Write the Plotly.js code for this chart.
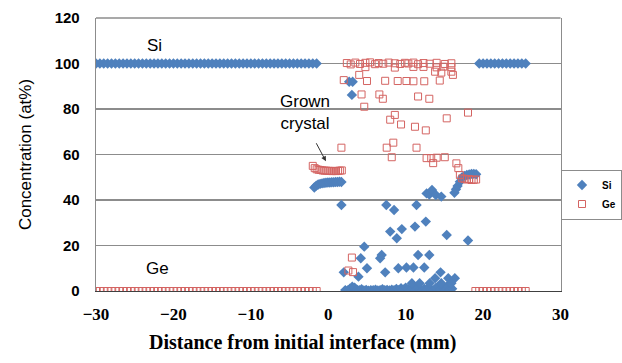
<!DOCTYPE html>
<html>
<head>
<meta charset="utf-8">
<script src="https://cdn.plot.ly/plotly-3.0.1.min.js"></script>
<style>html,body{margin:0;padding:0;background:#fff;}#chart{width:622px;height:363px;}</style>
</head>
<body>
<div id="chart"></div>
<script>
// ---- Si (at%) : distance (mm) ----
const siX = [
  -30,-29.5,-29,-28.5,-28,-27.5,-27,-26.5,-26,-25.5,-25,-24.5,-24,-23.5,-23,-22.5,-22,-21.5,-21,-20.5,
  -20,-19.5,-19,-18.5,-18,-17.5,-17,-16.5,-16,-15.5,-15,-14.5,-14,-13.5,-13,-12.5,-12,-11.5,-11,-10.5,
  -10,-9.5,-9,-8.5,-8,-7.5,-7,-6.5,-6,-5.5,-5,-4.5,-4,-3.5,-3,-2.5,-2,-1.5,
  -1.8,-1.55,-1.3,-1.05,-0.8,-0.55,-0.3,-0.05,0.2,0.45,0.7,0.95,1.2,1.45,1.7,
  1.7,2.0,2.7,3.15,3.05,
  2.2,2.5,2.8,3.1,3.4,3.7,4.0,4.3,4.6,4.9,5.2,5.5,5.8,6.1,6.4,6.7,7.0,7.3,7.6,7.9,8.2,8.5,8.8,9.1,9.4,9.7,
  10.0,10.3,10.6,10.9,11.2,11.5,11.8,12.1,12.4,12.7,13.0,13.3,13.6,13.9,14.2,14.5,14.8,15.1,15.4,15.7,16.0,
  4.65,6.9,13.05,11.6,4.2,6.7,5.0,9.05,10.1,11.0,12.4,7.35,14.5,3.9,13.8,15.5,16.35,10.8,11.8,13.1,14.6,15.9,
  7.5,11.4,8.5,12.6,11.2,9.5,8.0,15.3,8.85,18.05,
  12.7,13.05,13.4,13.9,14.6,16.3,16.5,16.7,17.0,
  17.3,17.6,17.9,18.2,18.5,18.8,19.1,
  19.5,20,20.5,21,21.5,22,22.5,23,23.5,24,24.5,25,25.5
];
const siY = [
  100,100,100,100,100,100,100,100,100,100,100,100,100,100,100,100,100,100,100,100,
  100,100,100,100,100,100,100,100,100,100,100,100,100,100,100,100,100,100,100,100,
  100,100,100,100,100,100,100,100,100,100,100,100,100,100,100,100,100,100,
  45.5,46.3,46.8,47.1,47.3,47.5,47.6,47.7,47.7,47.8,47.8,47.9,47.9,48.0,47.9,
  37.8,8.2,92,92,86.2,
  0.4,0.2,1.0,1.9,1.5,0.6,0.3,0.8,0.2,0.5,0.1,0.4,0.3,0.6,0.2,0.4,0.8,0.3,0.5,0.2,0.6,0.3,0.9,0.4,1.2,0.6,
  1.5,0.8,0.4,1.1,0.3,1.9,0.5,0.2,1.0,0.4,1.6,0.6,0.2,1.3,2.0,0.7,1.5,0.3,2.2,0.6,1.0,
  19.5,15.8,15.8,15.8,14.4,14.4,10.0,10.0,10.3,10.3,10.3,8.2,8.2,6.3,5.6,5.6,5.6,3.4,3.4,3.4,3.4,3.4,
  37.8,37.8,35.6,30.5,28.3,27.2,26.1,24.6,23.2,22.2,
  42.9,42.4,44.4,42.2,41.5,43.2,44.7,46.1,48.0,
  50.0,50.6,51.0,51.2,51.5,51.5,51.3,
  100,100,100,100,100,100,100,100,100,100,100,100,100
];

// ---- Ge (at%) : distance (mm) ----
const geX = [
  -30,-29.5,-29,-28.5,-28,-27.5,-27,-26.5,-26,-25.5,-25,-24.5,-24,-23.5,-23,-22.5,-22,-21.5,-21,-20.5,
  -20,-19.5,-19,-18.5,-18,-17.5,-17,-16.5,-16,-15.5,-15,-14.5,-14,-13.5,-13,-12.5,-12,-11.5,-11,-10.5,
  -10,-9.5,-9,-8.5,-8,-7.5,-7,-6.5,-6,-5.5,-5,-4.5,-4,-3.5,-3,-2.5,-2,-1.5,
  -2.0,-1.75,-1.5,-1.25,-1.0,-0.75,-0.5,-0.25,0,0.25,0.5,0.75,1.0,1.25,1.5,1.75,
  2.4,2.9,3.5,4.1,4.8,5.4,6.05,6.5,7.1,7.8,8.6,9.3,9.9,10.35,11.0,11.6,12.3,13.1,14.0,15.05,15.9,
  4.8,8.6,11.0,12.3,14.0,14.85,15.9,
  13.8,14.6,15.9,16.1,4.0,
  2.0,5.0,7.35,8.97,10.1,11.0,12.4,14.4,
  4.3,6.6,7.05,11.6,13.05,
  4.65,8.6,18.05,8.0,15.3,9.4,11.2,12.6,8.4,1.7,7.55,11.4,
  8.2,12.7,13.3,14.0,15.05,13.55,16.55,16.8,
  17.0,17.3,17.6,17.9,18.2,18.5,18.8,19.1,
  3.05,2.6,3.2,
  19.0,19.5,20,20.5,21,21.5,22,22.5,23,23.5,24,24.5,25,25.5
];
const geY = [
  0,0,0,0,0,0,0,0,0,0,0,0,0,0,0,0,0,0,0,0,
  0,0,0,0,0,0,0,0,0,0,0,0,0,0,0,0,0,0,0,0,
  0,0,0,0,0,0,0,0,0,0,0,0,0,0,0,0,0,0,
  55.0,54.0,53.5,53.3,53.2,53.0,52.9,52.9,52.8,52.8,52.7,52.8,52.7,52.8,52.9,53.0,
  100.2,99.6,100.4,99.8,100.3,100.5,99.7,100.2,99.9,100.4,100.1,99.8,100.3,100.0,100.4,99.7,100.2,99.9,100.3,99.8,100.1,
  98.4,98.2,98.5,98.5,98.3,98.6,98.4,
  96.4,96.0,96.4,95.0,95.0,
  92.7,92.3,92.4,92.3,92.3,92.2,92.2,92.5,
  86.4,86.4,84.5,85.5,84.5,
  81.0,77.4,78.4,75.3,75.9,73.2,72.2,70.6,65.2,63.0,63.0,63.0,
  58.8,58.4,58.4,58.6,58.8,56.2,56.1,54.0,
  51.0,49.5,49.3,49.0,49.2,48.8,48.9,49.0,
  14.7,9.0,8.3,
  0,0,0,0,0,0,0,0,0,0,0,0,0,0
];

const SANS = 'Liberation Sans, Arial, sans-serif';
const SERIF = 'Liberation Serif, Times New Roman, serif';

const traces = [
  {x: siX, y: siY, name: 'Si', type: 'scatter', mode: 'markers',
   marker: {symbol: 'diamond', size: 8, color: '#4F81BD', line: {width: 0}}},
  {x: geX, y: geY, name: 'Ge', type: 'scatter', mode: 'markers',
   marker: {symbol: 'square-open', size: 7, color: '#D46462', line: {width: 1, color: '#D46462'}}}
];

const layout = {
  width: 622, height: 363,
  margin: {l: 96, r: 0, t: 18, b: 72},
  paper_bgcolor: '#fff', plot_bgcolor: '#fff',
  showlegend: true,
  legend: {x: 0.893, y: 0.445, xanchor: 'left', yanchor: 'top',
           bordercolor: '#8c8c8c', borderwidth: 1, bgcolor: '#fff',
           font: {family: SANS, size: 10, color: '#000', weight: 'bold'},
           itemwidth: 30, tracegroupgap: 0},
  xaxis: {domain: [0, 0.8916], range: [-30, 30], tick0: 0, dtick: 10, showgrid: false, zeroline: false,
          showline: true, linecolor: '#404040', linewidth: 1, ticks: '',
          ticklabelstandoff: 8,
          tickfont: {family: SERIF, size: 17, color: '#000', weight: 'bold'}},
  yaxis: {range: [0, 120], tick0: 0, dtick: 20, showgrid: true, gridcolor: '#8c8c8c', gridwidth: 1.3,
          zeroline: false, showline: true, mirror: true, linecolor: '#8c8c8c', linewidth: 1.3, ticks: '',
          ticklabelstandoff: 12,
          tickfont: {family: SANS, size: 15, color: '#000', weight: 'bold'},
          title: {text: 'Concentration (at%)', font: {family: SANS, size: 17, color: '#000'}, standoff: 18}},
  shapes: [
    {type: 'line', xref: 'x domain', yref: 'y domain', x0: 0, x1: 1, y0: 1, y1: 1,
     line: {color: '#8c8c8c', width: 1.3}}
  ],
  annotations: [
    {x: -22.4, y: 108, xref: 'x', yref: 'y', text: 'Si', showarrow: false,
     font: {family: SANS, size: 17, color: '#000'}},
    {x: -22.0, y: 10, xref: 'x', yref: 'y', text: 'Ge', showarrow: false,
     font: {family: SANS, size: 17, color: '#000'}},
    {x: -3.0, y: 78.5, xref: 'x', yref: 'y', text: 'Grown<br>crystal', showarrow: false,
     font: {family: SANS, size: 17, color: '#000'}},
    {x: -0.3, y: 57, xref: 'x', yref: 'y', ax: -1.65, ay: 65.6, axref: 'x', ayref: 'y',
     text: '', showarrow: true, arrowhead: 2, arrowsize: 1, arrowwidth: 1, arrowcolor: '#333', standoff: 0},
    {x: 0.3954, y: -0.19, xref: 'paper', yref: 'paper', xanchor: 'center', yanchor: 'middle',
     text: 'Distance from initial interface (mm)', showarrow: false,
     font: {family: SERIF, size: 20, color: '#000', weight: 'bold'}}
  ]
};

Plotly.newPlot('chart', traces, layout, {staticPlot: true, displayModeBar: false});
</script>
</body>
</html>
